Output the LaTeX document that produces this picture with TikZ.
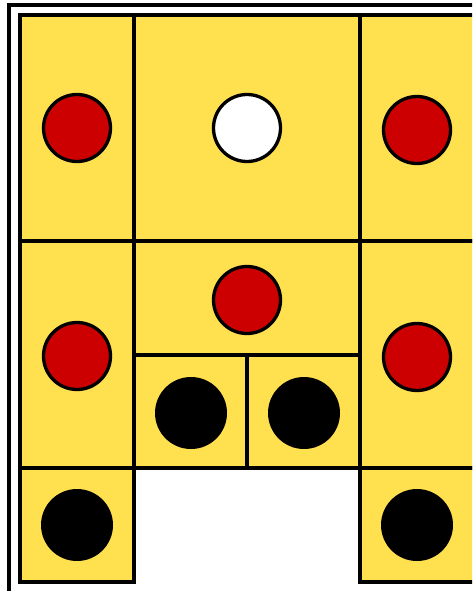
\documentclass[tikz,border=0pt]{standalone}
\definecolor{tileyellow}{HTML}{FFE150}
\definecolor{pegred}{HTML}{CC0000}
\begin{document}
\begin{tikzpicture}[x=1pt,y=-1pt,
  tile/.style={fill=tileyellow,draw=black,line width=3.3pt},
  redpeg/.style={fill=pegred,draw=black,line width=3.3pt},
  whitepeg/.style={fill=white,draw=black,line width=3.3pt},
  blackpeg/.style={fill=black,draw=none}]
\useasboundingbox (0,0) rectangle (472,591);
\clip (0,0) rectangle (472,591);
\fill[white] (0,0) rectangle (472,591);
% frame
\draw[line width=3.3pt] (9,5) rectangle (520,640);
% tiles
\draw[tile] (20,15) rectangle (134,241);
\draw[tile] (134,15) rectangle (360,241);
\draw[tile] (360,15) rectangle (510,241);
\draw[tile] (20,241) rectangle (134,468);
\draw[tile] (134,241) rectangle (360,355);
\draw[tile] (134,355) rectangle (247,468);
\draw[tile] (247,355) rectangle (360,468);
\draw[tile] (360,241) rectangle (510,468);
\draw[tile] (20,468) rectangle (134,582);
\draw[tile] (360,468) rectangle (510,582);
% pegs
\draw[redpeg] (77,128) circle (33.5);
\draw[whitepeg] (247,128) circle (33.5);
\draw[redpeg] (417,130) circle (33.5);
\draw[redpeg] (77,356) circle (33.5);
\draw[redpeg] (247,300) circle (33.5);
\draw[redpeg] (417,357) circle (33.5);
\fill[blackpeg] (191,413) circle (36);
\fill[blackpeg] (304,413) circle (36);
\fill[blackpeg] (77,525) circle (36);
\fill[blackpeg] (417,525) circle (36);
\end{tikzpicture}
\end{document}
